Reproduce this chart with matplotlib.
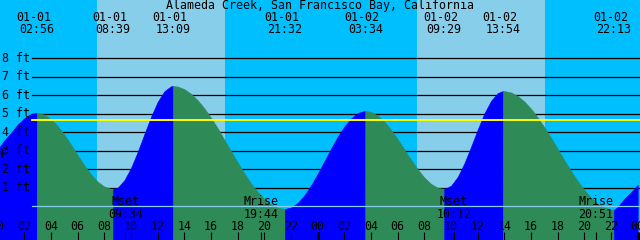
import numpy as np
import matplotlib
matplotlib.use('Agg')
from matplotlib import pyplot as plt
from matplotlib import transforms

title = 'Alameda Creek, San Francisco Bay, California'

# tide height (ft) every half hour, 01-01 00:00 .. 01-03 00:00
tide_hours = np.arange(0, 48.5, 0.5)
tide_ft = [3.05, 3.56, 3.97, 4.42, 4.76, 4.99, 5.05, 4.95, 4.70, 4.33,
           3.86, 3.32, 2.75, 2.20, 1.71, 1.32, 1.05, 0.93, 1.00, 1.40,
           2.07, 2.94, 3.90, 4.84, 5.65, 6.22, 6.49, 6.47, 6.33, 6.08,
           5.73, 5.29, 4.78, 4.21, 3.59, 2.97, 2.36, 1.77, 1.23, 0.76,
           0.38, 0.09, -0.09, -0.16, -0.08, 0.17, 0.58, 1.12, 1.75, 2.43,
           3.11, 3.76, 4.31, 4.75, 5.04, 5.15, 5.10, 4.90, 4.57, 4.13,
           3.62, 3.06, 2.51, 1.99, 1.54, 1.20, 0.99, 0.92, 1.10, 1.58,
           2.32, 3.21, 4.15, 5.02, 5.70, 6.12, 6.23, 6.15, 5.96, 5.66,
           5.27, 4.80, 4.27, 3.69, 3.09, 2.48, 1.89, 1.35, 0.86, 0.45,
           0.13, -0.08, -0.19, -0.05, 0.40, 0.75, 1.15]

# highs and lows
ext_hours = [2.933, 8.65, 13.15, 21.533, 27.567, 33.483, 37.9, 46.217]
ext_ft = [5.05, 0.92, 6.5, -0.16, 5.15, 0.92, 6.23, -0.2]
ext_dates = ['01-01', '01-01', '01-01', '01-01',
             '01-02', '01-02', '01-02', '01-02']
ext_clock = ['02:56', '08:39', '13:09', '21:32',
             '03:34', '09:29', '13:54', '22:13']

sunrise = [7.42, 31.42]
sunset = [17.05, 41.05]

moon_hours = [9.567, 19.733, 34.2, 44.85]
moon_names = ['Mset', 'Mrise', 'Mset', 'Mrise']
moon_clock = ['09:34', '19:44', '10:12', '20:51']

ft_levels = [1, 2, 3, 4, 5, 6, 7, 8]
ref_level = 4.64
now_hour, now_ft = 0.32, 2.87

hour_ticks = np.arange(0, 49, 2)
day_marks = [0, 24, 48]

NIGHT = '#00BFFF'
DAY = '#87CEEB'
RISE = '#0000FF'
FALL = '#2E8B57'
FONT = dict(family='DejaVu Sans Mono', fontsize=8.4, color='black')


def yf(py):
    # pixel row -> axes fraction
    return 1 - py / 240.0


def main():
    fig = plt.figure(figsize=(6.4, 2.4), dpi=100, facecolor=NIGHT)
    ax = fig.add_axes([0, 0, 1, 1])
    ax.axis('off')
    ax.set_xlim(0.1725, 48.1725)
    ax.set_ylim(-1.842, 11.159)

    for sr, ss in zip(sunrise, sunset):
        ax.axvspan(sr, ss, color=DAY, lw=0, zorder=0)

    for lv in ft_levels:
        ax.axhline(lv, xmin=0.05, color='black', lw=0.9, zorder=1)

    # tide curve, blue while rising, green while falling
    t = np.concatenate([tide_hours, ext_hours])
    h = np.concatenate([tide_ft, ext_ft])
    order = np.argsort(t, kind='stable')
    t, h = t[order], h[order]
    bounds = [t[0]] + ext_hours + [t[-1]]
    for a, b in zip(bounds[:-1], bounds[1:]):
        m = (t >= a) & (t <= b)
        col = FALL if h[m][-1] < h[m][0] else RISE
        ax.fill_between(t[m], -3, h[m], color=col, lw=0.4, zorder=2)

    ax.axhline(ref_level, xmin=0.05, color='#FFFF00', lw=1.4, zorder=3)
    ax.axhline(0, xmin=0.05, color=DAY, lw=0.9, zorder=3)
    ax.plot(now_hour, now_ft, marker='+', color='black', ms=6, mew=1,
            zorder=5)

    xt = ax.get_xaxis_transform()
    date_tr = transforms.offset_copy(xt, fig=fig, x=-3.5, y=0, units='dots')

    ax.text(0.5, yf(9.5), title, transform=ax.transAxes, ha='center',
            va='baseline', **FONT)
    for x, d, c in zip(ext_hours, ext_dates, ext_clock):
        ax.text(x, yf(21), d, transform=date_tr, ha='center',
                va='baseline', **FONT)
        ax.text(x, yf(33), c, transform=xt, ha='center',
                va='baseline', **FONT)

    for lv in ft_levels:
        ax.text(0.003, lv, '%d ft' % lv, ha='left', va='center',
                transform=ax.get_yaxis_transform(), zorder=4, **FONT)

    for x, n, c in zip(moon_hours, moon_names, moon_clock):
        ax.text(x, yf(205), n, transform=xt, ha='center', va='baseline',
                zorder=4, **FONT)
        ax.text(x, yf(217.5), c, transform=xt, ha='center',
                va='baseline', zorder=4, **FONT)

    for hr in hour_ticks:
        ax.text(hr, yf(229.5), '%02d' % (hr % 24), transform=xt,
                ha='center', va='baseline', zorder=4, **FONT)

    ax.vlines(hour_ticks, 0, 8 / 240.0, transform=xt, color='black',
              lw=0.8, zorder=4)
    ax.vlines(moon_hours, 0, 8 / 240.0, transform=xt, color='black',
              lw=0.8, zorder=4)
    ax.vlines(day_marks, 0, 8 / 240.0, transform=xt, color='black',
              lw=2.2, zorder=4)

    fig.savefig('out.png', dpi=100, facecolor=fig.get_facecolor())


if __name__ == '__main__':
    main()
